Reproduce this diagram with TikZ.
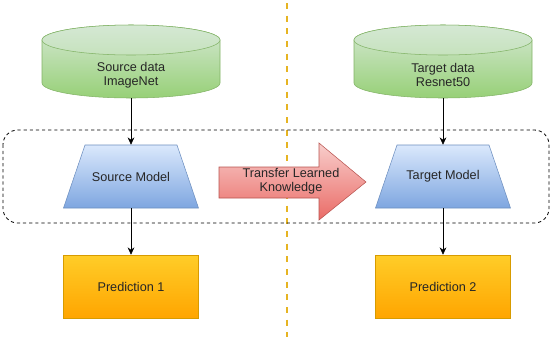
\documentclass[tikz,border=0pt]{standalone}
\usepackage{fontspec}
\setmainfont{Liberation Sans}
\usepackage{xcolor}
\usepackage{tikz}
\usetikzlibrary{arrows.meta,calc}
\definecolor{cylTop}{HTML}{D5E8D4}
\definecolor{cylBot}{HTML}{97D077}
\definecolor{cylLine}{HTML}{82B366}
\definecolor{modTop}{HTML}{DAE8FC}
\definecolor{modBot}{HTML}{7EA6E0}
\definecolor{modLine}{HTML}{6C8EBF}
\definecolor{predTop}{HTML}{FFCD28}
\definecolor{predBot}{HTML}{FFA500}
\definecolor{predLine}{HTML}{D79B00}
\definecolor{xferTop}{HTML}{F8CECC}
\definecolor{xferBot}{HTML}{EA6B66}
\definecolor{xferLine}{HTML}{B85450}
\definecolor{split}{HTML}{E6B422}
\tikzset{
  lbl/.style={font=\fontsize{9.5}{10.5}\selectfont,align=center,text=black!85},
  pred/.style={lbl,rectangle,minimum width=101.25pt,minimum height=47.25pt,
    top color=predTop,bottom color=predBot,draw=predLine,thin},
  flow/.style={-{Stealth[length=5.5pt,width=5pt]},black,thin}
}
% data store: #1 centre x, #2 name, #3 text
\newcommand{\datacyl}[3]{%
  \shade[top color=cylTop,bottom color=cylBot,draw=cylLine,thin]
    (#1-89,40) -- (#1-89,83) arc[start angle=180,end angle=0,x radius=89,y radius=15]
    -- (#1+89,40) arc[start angle=0,end angle=-180,x radius=89,y radius=15] -- cycle;
  \shade[top color=cylTop,bottom color=cylTop!75!cylBot,draw=cylLine,thin]
    (#1,40) ellipse[x radius=89,y radius=15];
  \node[lbl,minimum width=133.5pt,minimum height=34.5pt,inner sep=0pt] (#2) at (#1,75) {#3};
}
% model: #1 centre x, #2 name, #3 text
\newcommand{\modelbox}[3]{%
  \shade[top color=modTop,bottom color=modBot,draw=modLine,thin]
    (#1-67.5,208) -- (#1-46,145) -- (#1+46,145) -- (#1+67.5,208) -- cycle;
  \node[lbl,minimum width=101.25pt,minimum height=47.25pt,inner sep=0pt] (#2) at (#1,176.5) {#3};
}
\newcommand{\xferarrow}{%
  \shade[top color=xferTop,bottom color=xferBot,draw=xferLine,thin]
    (219,167) -- (319,167) -- (319,143) -- (366,182) -- (319,220) -- (319,198)
    -- (219,198) -- cycle;
}

\begin{document}
\begin{tikzpicture}[x=0.75pt,y=-0.75pt]
\useasboundingbox (0,0) rectangle (552,344);
\draw[split,line width=1.6pt,dash pattern=on 4.5pt off 5pt] (287,3) -- (287,337);
\draw[black,line width=0.6pt,dash pattern=on 2.4pt off 2.2pt,rounded corners=11pt] (3,130) rectangle (549,223);
\datacyl{131}{srcdata}{Source data\\ImageNet}
\datacyl{443}{tgtdata}{Target data\\Resnet50}
\modelbox{131}{srcmodel}{Source Model}
\modelbox{443}{tgtmodel}{Target Model}
\node[pred] (pred1) at (131,286.5) {Prediction 1};
\node[pred] (pred2) at (443,286.5) {Prediction 2};
\xferarrow
\node[lbl] (xfer) at (291,181) {Transfer Learned\\Knowledge};
\draw[flow] (srcdata) -- (srcmodel);
\draw[flow] (tgtdata) -- (tgtmodel);
\draw[flow] (srcmodel) -- (pred1);
\draw[flow] (tgtmodel) -- (pred2);
\end{tikzpicture}
\end{document}
